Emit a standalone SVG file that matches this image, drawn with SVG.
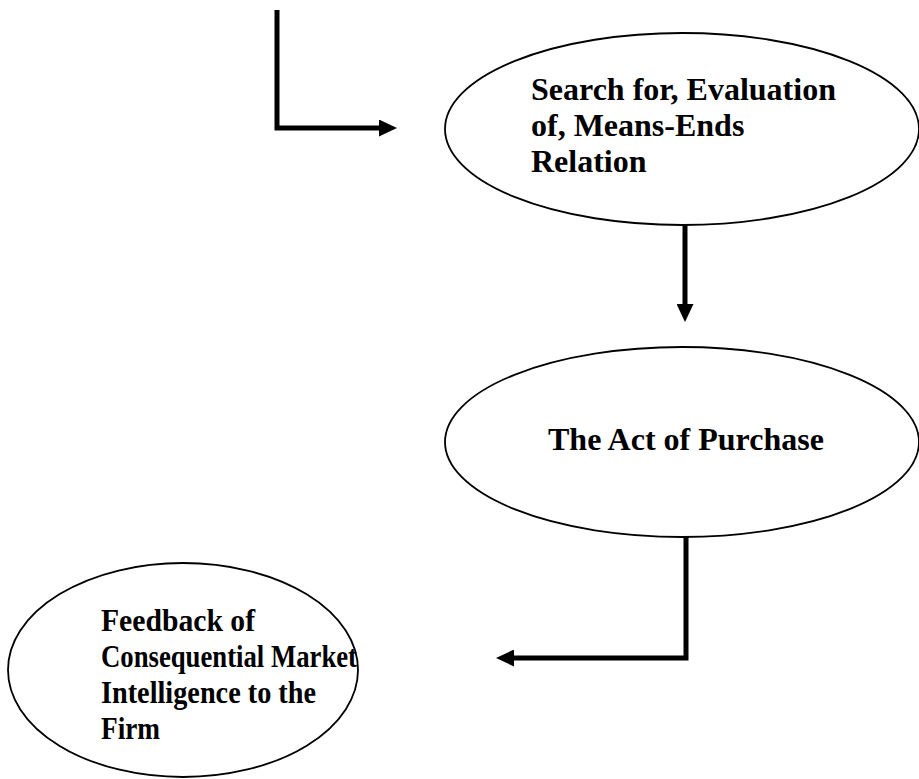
<svg xmlns="http://www.w3.org/2000/svg" width="919" height="779" viewBox="0 0 919 779">
  <style>
    .node { fill: #ffffff; stroke: #000000; stroke-width: 1.8; }
    .label { font-family: "Liberation Serif", "Times New Roman", serif; font-weight: bold; font-size: 32px; fill: #000000; }
    .feedback { font-size: 32px; }
    .link { fill: none; stroke: #000000; stroke-width: 5; stroke-linejoin: miter; stroke-linecap: butt; }
  </style>
  <defs>
    <marker id="arrow" viewBox="0 0 18 17" refX="2" refY="8.5" markerWidth="18" markerHeight="17" markerUnits="userSpaceOnUse" orient="auto">
      <path d="M0,0 L18,8.5 L0,17 Z" fill="#000000"/>
    </marker>
  </defs>

  <g id="node-search">
    <ellipse class="node" cx="682" cy="129" rx="237" ry="96"/>
    <text class="label" x="531" y="100">Search for, Evaluation</text>
    <text class="label" x="531" y="136">of, Means-Ends</text>
    <text class="label" x="531" y="172">Relation</text>
  </g>

  <g id="node-purchase">
    <ellipse class="node" cx="682" cy="442" rx="237" ry="95"/>
    <text class="label" x="548" y="450">The Act of Purchase</text>
  </g>

  <g id="node-feedback">
    <ellipse class="node" cx="183" cy="670" rx="175" ry="107"/>
    <text class="label feedback" x="101" y="631" textLength="154" lengthAdjust="spacingAndGlyphs">Feedback of</text>
    <text class="label feedback" x="101" y="667" textLength="256" lengthAdjust="spacingAndGlyphs">Consequential Market</text>
    <text class="label feedback" x="101" y="703" textLength="215" lengthAdjust="spacingAndGlyphs">Intelligence to the</text>
    <text class="label feedback" x="101" y="739" textLength="59" lengthAdjust="spacingAndGlyphs">Firm</text>
  </g>

  <g id="connectors">
    <path class="link" d="M277,10 V128 H381" marker-end="url(#arrow)"/>
    <path class="link" d="M685,225 V306" marker-end="url(#arrow)"/>
    <path class="link" d="M686,537 V658 H512" marker-end="url(#arrow)"/>
  </g>
</svg>
